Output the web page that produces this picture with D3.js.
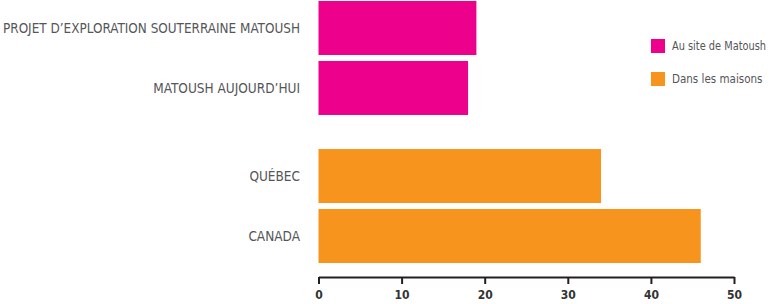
<!DOCTYPE html>
<html>
<head>
<meta charset="utf-8">
<script src="https://cdn.jsdelivr.net/npm/d3@7"></script>
<style>
  body { margin: 0; background: #fff; }
  svg text { font-family: "DejaVu Sans Condensed", "DejaVu Sans", sans-serif; font-stretch: condensed; }
</style>
</head>
<body>
<script>
// data
var groups = ["Au site de Matoush", "Dans les maisons"];
var categories = [
  ["PROJET D\u2019EXPLORATION SOUTERRAINE MATOUSH", "MATOUSH AUJOURD\u2019HUI"],
  ["QU\u00c9BEC", "CANADA"]
];
var values = [[19, 18], [34, 46]];
var colors = ["#EC008C", "#F7941E"];
var ticks = [0, 10, 20, 30, 40, 50];

var w = 771, h = 304;

var svg = d3.select("body").append("svg")
  .attr("width", w)
  .attr("height", h);

var x = d3.scaleLinear().domain([0, 50]).range([318.5, 734]);

var yGroup = d3.scaleBand().domain(d3.range(groups.length)).range([1, 263]).paddingInner(0.23);
var yInner = d3.scaleBand().domain([0, 1]).range([0, yGroup.bandwidth()]).paddingInner(0.1);

var rows = [];
groups.forEach(function(g, gi) {
  categories[gi].forEach(function(c, ci) {
    rows.push({ group: gi, idx: ci, label: c, value: values[gi][ci] });
  });
});

function rowY(d) { return yGroup(d.group) + yInner(d.idx); }

// squeeze text that runs wider than the room it has
function fit(sel, maxW) {
  sel.each(function() {
    var len = this.getComputedTextLength();
    if (len > maxW) d3.select(this).attr("textLength", maxW).attr("lengthAdjust", "spacingAndGlyphs");
  });
}

svg.selectAll("rect.bar")
  .data(rows)
  .enter()
  .append("rect")
  .attr("class", "bar")
  .attr("x", x(0))
  .attr("y", rowY)
  .attr("width", function(d) { return x(d.value) - x(0); })
  .attr("height", yInner.bandwidth())
  .attr("fill", function(d) { return colors[d.group]; });

svg.selectAll("text.cat")
  .data(rows)
  .enter()
  .append("text")
  .attr("class", "cat")
  .attr("x", 300)
  .attr("y", function(d) { return rowY(d) + yInner.bandwidth() / 2; })
  .attr("dy", "0.36em")
  .attr("text-anchor", "end")
  .attr("font-size", "13.5px")
  .attr("fill", "#555658")
  .text(function(d) { return d.label; })
  .call(fit, 297);

// axis
var axis = svg.append("g")
  .attr("transform", "translate(0,277)")
  .call(d3.axisBottom(x).tickValues(ticks).tickSize(7).tickPadding(6).tickSizeOuter(0));
axis.select(".domain").attr("stroke", "#231F20").attr("stroke-width", 2);
axis.selectAll(".tick line").attr("stroke", "#231F20").attr("stroke-width", 2);
axis.selectAll(".tick text")
  .attr("fill", "#333")
  .attr("font-size", "12px")
  .attr("font-weight", "bold")
  .style("font-family", "'DejaVu Sans Condensed', 'DejaVu Sans', sans-serif");

// legend
var legend = svg.selectAll("g.legend")
  .data(groups)
  .enter()
  .append("g")
  .attr("class", "legend")
  .attr("transform", function(d, i) { return "translate(651," + (39 + i * 33) + ")"; });

legend.append("rect")
  .attr("width", 14)
  .attr("height", 14)
  .attr("fill", function(d, i) { return colors[i]; });

legend.append("text")
  .attr("x", 21)
  .attr("y", 7)
  .attr("dy", "0.36em")
  .attr("font-size", "11.5px")
  .attr("fill", "#555658")
  .text(function(d) { return d; })
  .call(fit, 94);
</script>
</body>
</html>
